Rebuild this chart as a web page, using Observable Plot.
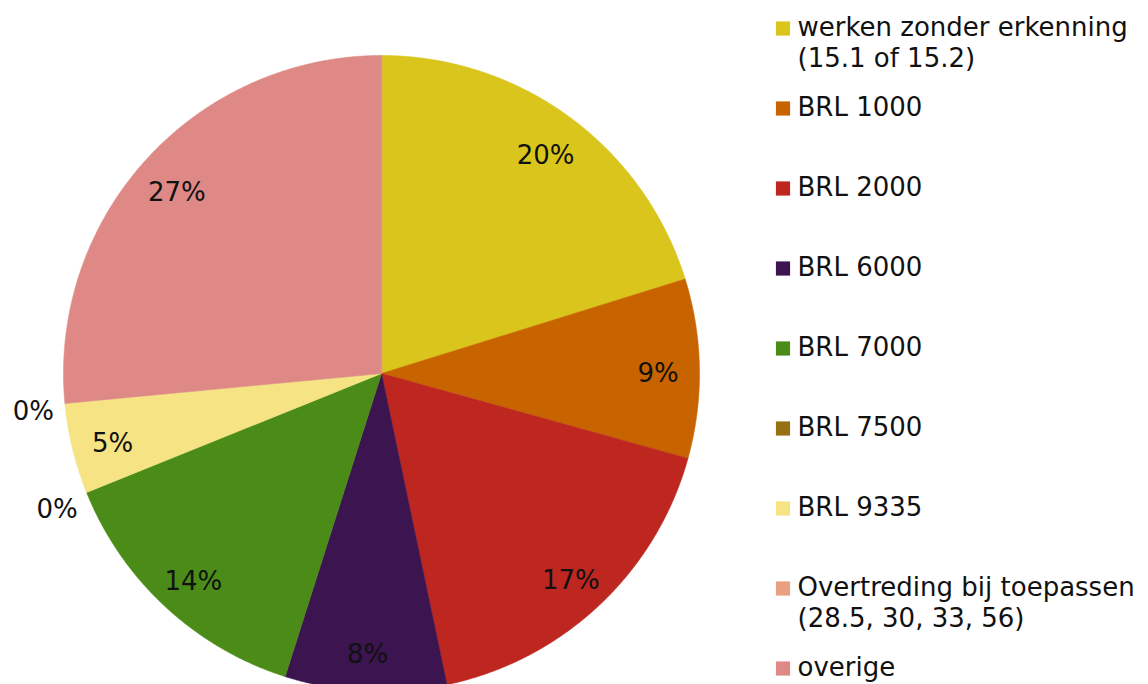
<!DOCTYPE html>
<html><head><meta charset="utf-8">
<script src="https://cdn.jsdelivr.net/npm/d3@7"></script>
<script src="https://cdn.jsdelivr.net/npm/@observablehq/plot@0.6"></script>
<style>
body{margin:0;background:#fff;}
#wrap{position:relative;width:1148px;height:684px;overflow:hidden;}
#wrap > svg{position:absolute;left:0;top:0;}
</style></head><body><div id="wrap"></div>
<script>
const categories = [
  "werken zonder erkenning\n(15.1 of 15.2)",
  "BRL 1000",
  "BRL 2000",
  "BRL 6000",
  "BRL 7000",
  "BRL 7500",
  "BRL 9335",
  "Overtreding bij toepassen\n(28.5, 30, 33, 56)",
  "overige"
];
const shares = [20.2, 9.1, 17.4, 8.2, 14.0, 0, 4.6, 0, 26.5];
const colors = ["#DAC51C", "#C86400", "#BE2620", "#3C1450", "#4B8C19", "#967014", "#F5E384", "#E8A080", "#DE8986"];

const FONT = "DejaVu Sans, Verdana, sans-serif";
const starts = d3.cumsum([0, ...shares]);
const slices = categories.map((name, i) => ({
  name, value: shares[i],
  a0: starts[i] / 100 * 2 * Math.PI,
  a1: starts[i + 1] / 100 * 2 * Math.PI
}));
const pts = slices.flatMap(s => {
  if (s.value === 0) return [];
  const n = Math.max(2, Math.ceil((s.a1 - s.a0) / 0.004));
  const arr = [{name: s.name, x: 0, y: 0}];
  for (let k = 0; k <= n; k++) {
    const a = s.a0 + (s.a1 - s.a0) * k / n;
    arr.push({name: s.name, x: Math.sin(a), y: Math.cos(a)});
  }
  return arr;
});
const labelR = d => d.value < 1 ? 1.1 : 0.87;
const mid = d => (d.a0 + d.a1) / 2;

const color = {domain: categories, range: colors};

const pie = Plot.plot({
  width: 1148, height: 684,
  margin: 0,
  x: {domain: [-1, 1], range: [63, 699], axis: null},
  y: {domain: [-1, 1], range: [691, 55], axis: null},
  color,
  style: {fontFamily: FONT, background: "transparent"},
  marks: [
    Plot.line(pts, {x: "x", y: "y", z: "name", fill: "name", stroke: "name", strokeWidth: 0.6, curve: "linear-closed"}),
    Plot.text(slices, {
      x: d => labelR(d) * Math.sin(mid(d)),
      y: d => labelR(d) * Math.cos(mid(d)),
      text: d => Math.round(d.value) + "%",
      fontSize: 26, fill: "#111", textAnchor: "middle", dy: 5
    })
  ]
});

const legend = Plot.plot({
  width: 1148, height: 684,
  marginLeft: 775, marginRight: 0, marginTop: 0, marginBottom: 0,
  y: {type: "point", domain: categories, range: [28, 668], padding: 0, axis: null},
  color,
  style: {fontFamily: FONT, background: "transparent"},
  marks: [
    Plot.dot(categories, {y: d => d, frameAnchor: "left", dx: 7.5, symbol: "square", r: 8, fill: d => d, stroke: null}),
    Plot.text(categories, {y: d => d, frameAnchor: "left", dx: 22, dy: -15, text: d => d, lineAnchor: "top", lineHeight: 1.2, textAnchor: "start", fontSize: 26, fill: "#111"})
  ]
});

const wrap = document.getElementById("wrap");
wrap.append(pie);
wrap.append(legend);
</script>
</body></html>
